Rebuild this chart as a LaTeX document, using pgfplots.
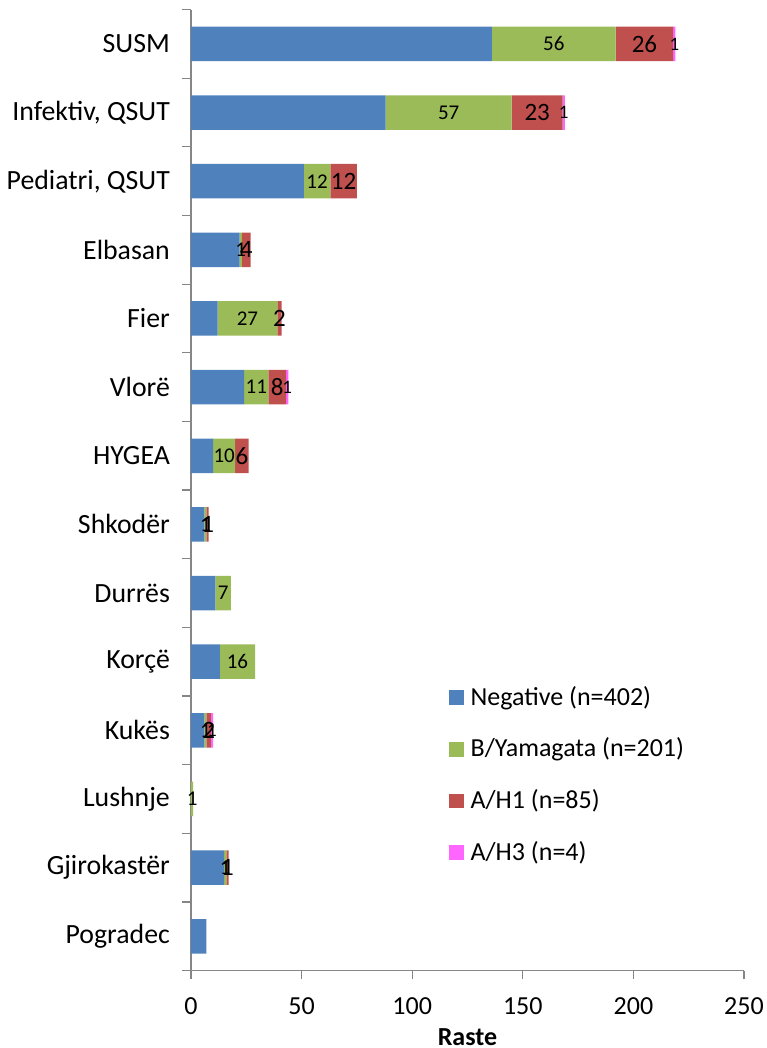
\documentclass[border=0pt]{standalone}
\usepackage{pgfplots}
\pgfplotsset{compat=1.18}
\usepackage{pgfplotstable}
\usepackage{fontspec}
\setmainfont{Carlito}
\definecolor{cneg}{HTML}{4F81BD}
\definecolor{cyam}{HTML}{9BBB59}
\definecolor{chone}{HTML}{C0504D}
\definecolor{chthree}{HTML}{FF66FF}
\definecolor{axgray}{HTML}{868686}

\pgfplotstableread{
y neg yam h1 h3
13 136 56 26 1
12 88 57 23 1
11 51 12 12 0
10 22 1 4 0
9 12 27 2 0
8 24 11 8 1
7 10 10 6 0
6 6 1 1 0
5 11 7 0 0
4 13 16 0 0
3 6 1 2 1
2 0 1 0 0
1 15 1 1 0
0 7 0 0 0
}\maindata

\pgfplotstableread{
x y lab
164 13 56
116.5 12 57
57 11 12
22.5 10 1
25.5 9 27
29.5 8 11
15 7 10
6.5 6 1
14.5 5 7
21 4 16
6.5 3 1
0.5 2 1
15.5 1 1
}\greenlab

\pgfplotstableread{
x y lab
205 13 26
156.5 12 23
69 11 12
25 10 4
40 9 2
39 8 8
23 7 6
7.5 6 1
8 3 2
16.5 1 1
}\redlab

\pgfplotstableread{
x y lab
218.5 13 1
168.5 12 1
43.5 8 1
9.5 3 1
}\pinklab

\newcommand{\bigf}{\fontsize{26}{31}\selectfont}
\newcommand{\catf}{\fontsize{27.8}{33}\selectfont}

\begin{document}
\begin{tikzpicture}
\begin{axis}[
  scale only axis, width=553pt, height=961pt,
  xbar stacked, bar width=34.5pt,
  xmin=0, xmax=250, ymin=-0.5, ymax=13.5,
  axis x line*=bottom, axis y line*=left,
  axis line style={axgray, line width=1.2pt},
  tick style={axgray, line width=1.2pt},
  tick align=outside,
  major tick length=8.6pt, minor tick length=9pt,
  xtick={0,50,100,150,200,250},
  xticklabels={0,50,100,150,200,250},
  ytick={0,1,2,3,4,5,6,7,8,9,10,11,12,13},
  yticklabels={Pogradec,Gjirokastër,Lushnje,Kukës,Korçë,Durrës,Shkodër,HYGEA,Vlorë,Fier,Elbasan,{Pediatri, QSUT},{Infektiv, QSUT},SUSM},
  minor ytick={-0.5,0.5,...,13.5},
  major y tick style={draw=none},
  xticklabel style={font=\bigf, yshift=-15pt},
  yticklabel style={font=\catf, xshift=-9pt},
  xlabel={Raste},
  xlabel style={font=\bfseries\bigf, yshift=-7pt},
  legend cell align=left,
  legend style={draw=none, fill=none, at={(0.467,0.294)}, anchor=north west,
    font=\bigf, inner sep=0pt, outer sep=0pt, row sep=34.7pt, column sep=6.7pt,
    nodes={inner sep=0pt, text height=17pt, text depth=0pt}},
  legend image code/.code={\fill[#1,draw=none] (0pt,-8.5pt) rectangle (14.7pt,6.2pt);},
]
\addplot[fill=cneg, draw=none] table[x=neg, y=y] \maindata;
\addlegendentry{Negative (n=402)}
\addplot[fill=cyam, draw=none] table[x=yam, y=y] \maindata;
\addlegendentry{B/Yamagata (n=201)}
\addplot[fill=chone, draw=none] table[x=h1, y=y] \maindata;
\addlegendentry{A/H1 (n=85)}
\addplot[fill=chthree, draw=none] table[x=h3, y=y] \maindata;
\addlegendentry{A/H3 (n=4)}
\end{axis}
\begin{axis}[
  scale only axis, width=553pt, height=961pt,
  xmin=0, xmax=250, ymin=-0.5, ymax=13.5,
  hide axis, clip=false,
]
\addplot[draw=none, mark=none, nodes near coords, point meta=explicit symbolic,
  nodes near coords align={center},
  nodes near coords style={anchor=center, inner sep=0pt, font=\fontsize{21}{25}\selectfont}]
  table[x=x, y=y, meta=lab] \greenlab;
\addplot[draw=none, mark=none, nodes near coords, point meta=explicit symbolic,
  nodes near coords align={center},
  nodes near coords style={anchor=center, inner sep=0pt, font=\fontsize{25}{30}\selectfont}]
  table[x=x, y=y, meta=lab] \redlab;
\addplot[draw=none, mark=none, nodes near coords, point meta=explicit symbolic,
  nodes near coords align={center},
  nodes near coords style={anchor=center, inner sep=0pt, font=\fontsize{19}{23}\selectfont}]
  table[x=x, y=y, meta=lab] \pinklab;
\end{axis}
\pgfresetboundingbox
\path (-191pt,-77.4pt) rectangle (576pt,970.6pt);
\end{tikzpicture}
\end{document}
